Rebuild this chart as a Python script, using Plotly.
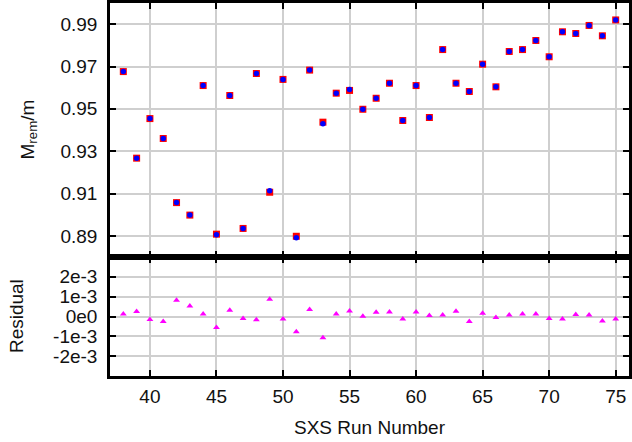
import plotly.graph_objects as go

runs = list(range(38, 76))
mrem_red = [0.9676, 0.9267, 0.9454, 0.9360, 0.9057, 0.8998, 0.9610, 0.8908, 0.9563, 0.8935,
            0.9667, 0.9106, 0.9639, 0.8898, 0.9683, 0.9437, 0.9574, 0.9587, 0.9498, 0.9550,
            0.9621, 0.9445, 0.9610, 0.9459, 0.9780, 0.9621, 0.9582, 0.9711, 0.9604, 0.9771,
            0.9780, 0.9823, 0.9746, 0.9864, 0.9856, 0.9894, 0.9845, 0.9920]
mrem_blue = [0.9676, 0.9267, 0.9454, 0.9360, 0.9057, 0.8998, 0.9610, 0.8905, 0.9563, 0.8935,
             0.9667, 0.9113, 0.9639, 0.8891, 0.9683, 0.9429, 0.9574, 0.9591, 0.9498, 0.9550,
             0.9621, 0.9445, 0.9610, 0.9459, 0.9780, 0.9621, 0.9582, 0.9711, 0.9604, 0.9771,
             0.9780, 0.9823, 0.9746, 0.9864, 0.9856, 0.9894, 0.9845, 0.9920]
residual = [0.13e-3, 0.25e-3, -0.15e-3, -0.25e-3, 0.82e-3, 0.53e-3, 0.13e-3, -0.55e-3, 0.32e-3, -0.10e-3,
            -0.17e-3, 0.87e-3, -0.12e-3, -0.77e-3, 0.35e-3, -1.07e-3, 0.13e-3, 0.28e-3, 0.01e-3, 0.22e-3,
            0.23e-3, -0.13e-3, 0.23e-3, 0.05e-3, 0.08e-3, 0.27e-3, -0.25e-3, 0.17e-3, -0.05e-3, 0.07e-3,
            0.12e-3, 0.12e-3, -0.10e-3, -0.13e-3, 0.10e-3, 0.08e-3, -0.23e-3, -0.13e-3]

x_ticks = [40, 45, 50, 55, 60, 65, 70, 75]
y_ticks = [0.89, 0.91, 0.93, 0.95, 0.97, 0.99]
y_ticktext = ["0.89", "0.91", "0.93", "0.95", "0.97", "0.99"]
res_ticks = [-2e-3, -1e-3, 0, 1e-3, 2e-3]
res_ticktext = ["-2e-3", "-1e-3", "0e0", "1e-3", "2e-3"]

FONT = dict(family="Liberation Sans, Arial, sans-serif", size=19, color="#111111")
GRID = "#cfcfcf"

fig = go.Figure()
fig.add_trace(go.Scatter(x=runs, y=mrem_red, mode="markers", xaxis="x", yaxis="y",
                         marker=dict(symbol="square", size=7, color="#ff0000", line=dict(width=0)),
                         showlegend=False))
fig.add_trace(go.Scatter(x=runs, y=mrem_blue, mode="markers", xaxis="x", yaxis="y",
                         marker=dict(symbol="circle", size=5.5, color="#0000ff", line=dict(width=0)),
                         showlegend=False))
fig.add_trace(go.Scatter(x=runs, y=residual, mode="markers", xaxis="x2", yaxis="y2",
                         marker=dict(symbol="triangle-up", size=6, color="#ff00ff", line=dict(width=0)),
                         showlegend=False))

div = 0.319
axis_common = dict(showline=True, linecolor="black", linewidth=2.5, mirror="ticks",
                   ticks="inside", ticklen=6, tickwidth=2, tickcolor="black",
                   showgrid=True, gridcolor=GRID, gridwidth=1.5, zeroline=False,
                   tickfont=FONT)

fig.update_layout(
    width=632, height=442,
    margin=dict(l=110, r=0, t=2, b=66),
    paper_bgcolor="white", plot_bgcolor="white",
    xaxis=dict(domain=[0, 1], anchor="y", range=[37, 76], tickvals=x_ticks,
               showticklabels=False, **axis_common),
    yaxis=dict(domain=[div, 1], anchor="x", range=[0.88, 1.0], tickvals=y_ticks,
               ticktext=y_ticktext, ticklabelstandoff=6, **axis_common),
    xaxis2=dict(domain=[0, 1], anchor="y2", range=[37, 76], tickvals=x_ticks,
                ticklabelstandoff=1, matches="x", **axis_common),
    yaxis2=dict(domain=[0, div], anchor="x2", range=[-3e-3, 3e-3], tickvals=res_ticks,
                ticktext=res_ticktext, ticklabelstandoff=6, **axis_common),
    annotations=[
        dict(text="SXS Run Number", xref="paper", yref="paper", x=0.5, y=-0.139,
             xanchor="center", yanchor="middle", showarrow=False, font=FONT),
        dict(text="M<sub>rem</sub>/m", xref="paper", yref="paper", x=-0.157, y=(div + 1) / 2,
             xanchor="center", yanchor="middle", showarrow=False, font=FONT, textangle=-90),
        dict(text="Residual", xref="paper", yref="paper", x=-0.180, y=div / 2,
             xanchor="center", yanchor="middle", showarrow=False, font=FONT, textangle=-90),
    ],
)

fig.write_html("out.html", config={"displayModeBar": False},
               post_script="document.body.style.margin='0px';")
